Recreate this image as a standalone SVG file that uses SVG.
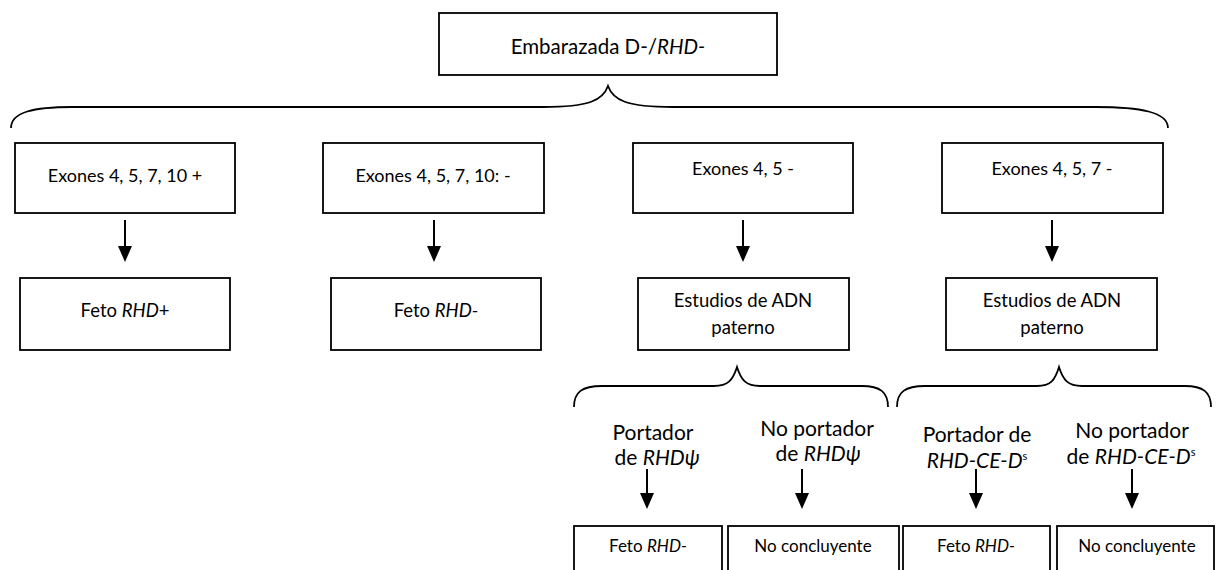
<svg xmlns="http://www.w3.org/2000/svg" width="1217" height="570" viewBox="0 0 1217 570">
  <style>
    .box { fill: #ffffff; stroke: #000000; stroke-width: 1.8; }
    .t { font-family: Lato, "Open Sans", "Liberation Sans", sans-serif; fill: #000000; text-anchor: middle; }
    .t20 { font-size: 20.5px; }
    .t18 { font-size: 18px; }
    .t17 { font-size: 18.5px; }
    .t16 { font-size: 17px; }
    .lbl { font-size: 21px; }
    .it { font-style: italic; }
    .brace { fill: none; stroke: #000000; stroke-width: 1.8; }
    .arrow { fill: none; stroke: #000000; stroke-width: 2; marker-end: url(#head); }
  </style>
  <defs>
    <marker id="head" markerUnits="userSpaceOnUse" markerWidth="16" markerHeight="14" refX="14" refY="7" orient="auto">
      <path d="M0,0 L16,7 L0,14 Z" fill="#000000"/>
    </marker>
  </defs>

  <rect width="1217" height="570" fill="#ffffff"/>

  <!-- root node -->
  <g id="n-root">
    <rect class="box" x="439" y="13" width="338" height="62"/>
    <text class="t t20" x="608" y="54">Embarazada D-/<tspan class="it">RHD-</tspan></text>
  </g>

  <!-- first level: exon results -->
  <g id="n-ex-all-pos">
    <rect class="box" x="15" y="143" width="220" height="70"/>
    <text class="t t18" x="125" y="182">Exones 4, 5, 7, 10 +</text>
  </g>
  <g id="n-ex-all-neg">
    <rect class="box" x="323" y="143" width="221" height="70"/>
    <text class="t t18" x="433" y="182">Exones 4, 5, 7, 10: -</text>
  </g>
  <g id="n-ex-45-neg">
    <rect class="box" x="633" y="143" width="220" height="70"/>
    <text class="t t18" x="743" y="175">Exones 4, 5 -</text>
  </g>
  <g id="n-ex-457-neg">
    <rect class="box" x="942" y="143" width="221" height="70"/>
    <text class="t t18" x="1052" y="175">Exones 4, 5, 7 -</text>
  </g>

  <!-- second level -->
  <g id="n-feto-pos">
    <rect class="box" x="20" y="278" width="210" height="72"/>
    <text class="t t17" x="125" y="317">Feto <tspan class="it">RHD</tspan>+</text>
  </g>
  <g id="n-feto-neg">
    <rect class="box" x="331" y="278" width="210" height="72"/>
    <text class="t t17" x="436" y="317">Feto <tspan class="it">RHD-</tspan></text>
  </g>
  <g id="n-adn-1">
    <rect class="box" x="638" y="278" width="211" height="72"/>
    <text class="t t17" x="743" y="307">Estudios de ADN</text>
    <text class="t t17" x="743" y="334">paterno</text>
  </g>
  <g id="n-adn-2">
    <rect class="box" x="946" y="278" width="211" height="72"/>
    <text class="t t17" x="1052" y="307">Estudios de ADN</text>
    <text class="t t17" x="1052" y="334">paterno</text>
  </g>

  <!-- branch labels -->
  <g id="l-portador-psi">
    <text class="t lbl" x="653" y="440">Portador</text>
    <text class="t lbl" x="657" y="465">de <tspan class="it">RHDψ</tspan></text>
  </g>
  <g id="l-noportador-psi">
    <text class="t lbl" x="817" y="436">No portador</text>
    <text class="t lbl" x="818" y="461">de <tspan class="it">RHDψ</tspan></text>
  </g>
  <g id="l-portador-ceds">
    <text class="t lbl" x="977" y="442">Portador de</text>
    <text class="t lbl" x="977" y="468"><tspan class="it">RHD-CE-D</tspan><tspan font-size="11" dy="-8">s</tspan></text>
  </g>
  <g id="l-noportador-ceds">
    <text class="t lbl" x="1132" y="438">No portador</text>
    <text class="t lbl" x="1131" y="464">de <tspan class="it">RHD-CE-D</tspan><tspan font-size="11" dy="-8">s</tspan></text>
  </g>

  <!-- third level (cut at the lower edge) -->
  <g id="n-res-1">
    <rect class="box" x="574" y="526" width="148" height="60"/>
    <text class="t t16" x="648" y="552">Feto <tspan class="it">RHD-</tspan></text>
  </g>
  <g id="n-res-2">
    <rect class="box" x="728" y="526" width="171" height="60"/>
    <text class="t t16" x="813" y="552">No concluyente</text>
  </g>
  <g id="n-res-3">
    <rect class="box" x="903" y="526" width="147" height="60"/>
    <text class="t t16" x="976" y="552">Feto <tspan class="it">RHD-</tspan></text>
  </g>
  <g id="n-res-4">
    <rect class="box" x="1057" y="526" width="157" height="60"/>
    <text class="t t16" x="1137" y="552">No concluyente</text>
  </g>

  <!-- connectors: braces and arrows -->
  <g id="connectors">
    <path class="brace" d="M11,128 C11,112 34,107 72,107 L543,107 C590,107 603,100 608,86 C613,100 626,107 673,107 L1096,107 C1140,107 1168,112 1168,128"/>
    <path class="brace" d="M574,407 C574,392 582,386 602,386 L714,386 C728,386 733,380 737,367 C741,380 746,386 760,386 L862,386 C880,386 888,392 888,407"/>
    <path class="brace" d="M897,407 C897,392 905,386 925,386 L1037,386 C1051,386 1055,380 1059,367 C1063,380 1068,386 1082,386 L1185,386 C1203,386 1211,392 1211,407"/>

    <line class="arrow" x1="125" y1="220" x2="125" y2="260"/>
    <line class="arrow" x1="434" y1="220" x2="434" y2="260"/>
    <line class="arrow" x1="743" y1="220" x2="743" y2="260"/>
    <line class="arrow" x1="1052" y1="220" x2="1052" y2="260"/>

    <line class="arrow" x1="647" y1="469" x2="647" y2="507"/>
    <line class="arrow" x1="802" y1="469" x2="802" y2="507"/>
    <line class="arrow" x1="976" y1="469" x2="976" y2="507"/>
    <line class="arrow" x1="1132" y1="469" x2="1132" y2="507"/>
  </g>
</svg>
